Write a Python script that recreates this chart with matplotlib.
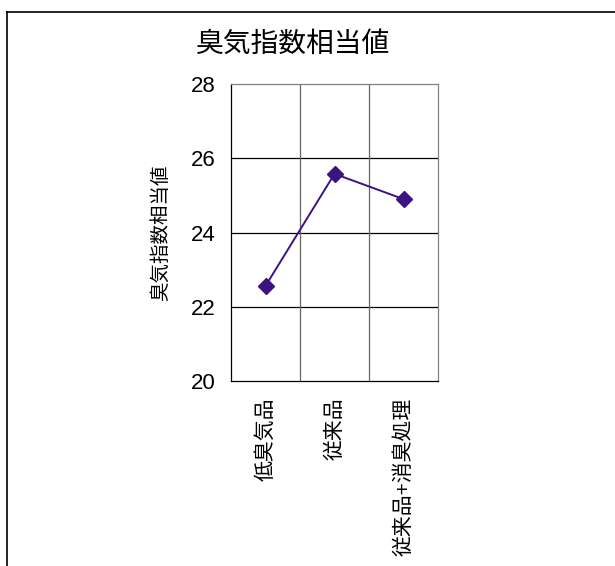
import matplotlib
matplotlib.use("Agg")
import matplotlib.pyplot as plt
from matplotlib.lines import Line2D

plt.rcParams['font.family'] = ['Liberation Sans', 'Noto Sans CJK JP', 'DejaVu Sans']

categories = ["低臭気品", "従来品", "従来品+消臭処理"]
values = [22.56, 25.58, 24.9]
yticks = [20, 22, 24, 26, 28]
title = "臭気指数相当値"
ylabel = "臭気指数相当値"

W, H = 615, 566
fig = plt.figure(figsize=(W / 100, H / 100), dpi=100)

# outer frame (left and top edges only visible)
fx, fy = 6.5 / W, 1 - 11.5 / H
fig.add_artist(Line2D([fx, fx], [0, fy], transform=fig.transFigure,
                      color="black", linewidth=1.2))
fig.add_artist(Line2D([fx, 1], [fy, fy], transform=fig.transFigure,
                      color="black", linewidth=1.2))

left, right, top, bottom = 231, 438, 84, 381
ax = fig.add_axes([left / W, 1 - bottom / H, (right - left) / W, (bottom - top) / H])

x = list(range(len(categories)))
ax.plot(x, values, color="#3c1480", linewidth=1.4, marker="D", markersize=8,
        markerfacecolor="#3c1480", markeredgecolor="#3c1480", zorder=5)

ax.set_xlim(-0.5, len(categories) - 0.5)
ax.set_ylim(20, 28)
ax.set_yticks(yticks)
ax.set_yticklabels([str(t) for t in yticks], fontsize=16)
for t in yticks[1:-1]:
    ax.axhline(t, color="black", linewidth=0.9, zorder=1)
for b in [0.5, 1.5]:
    ax.axvline(b, color="#666666", linewidth=0.9, zorder=1)

ax.set_xticks(x)
ax.set_xticklabels(categories, rotation=90, fontsize=15, va="top", ha="center")
ax.tick_params(axis="y", length=0, pad=11)
ax.tick_params(axis="x", length=0, pad=12)

for side in ["top", "right"]:
    ax.spines[side].set_color("#808080")
for side in ["left", "bottom"]:
    ax.spines[side].set_color("black")
for s in ax.spines.values():
    s.set_linewidth(0.9)

ax.set_ylabel(ylabel, fontsize=14, labelpad=15)
fig.text(293 / W, 1 - 45 / H, title, fontsize=20, ha="center", va="center")

fig.savefig("out.png", dpi=100)
